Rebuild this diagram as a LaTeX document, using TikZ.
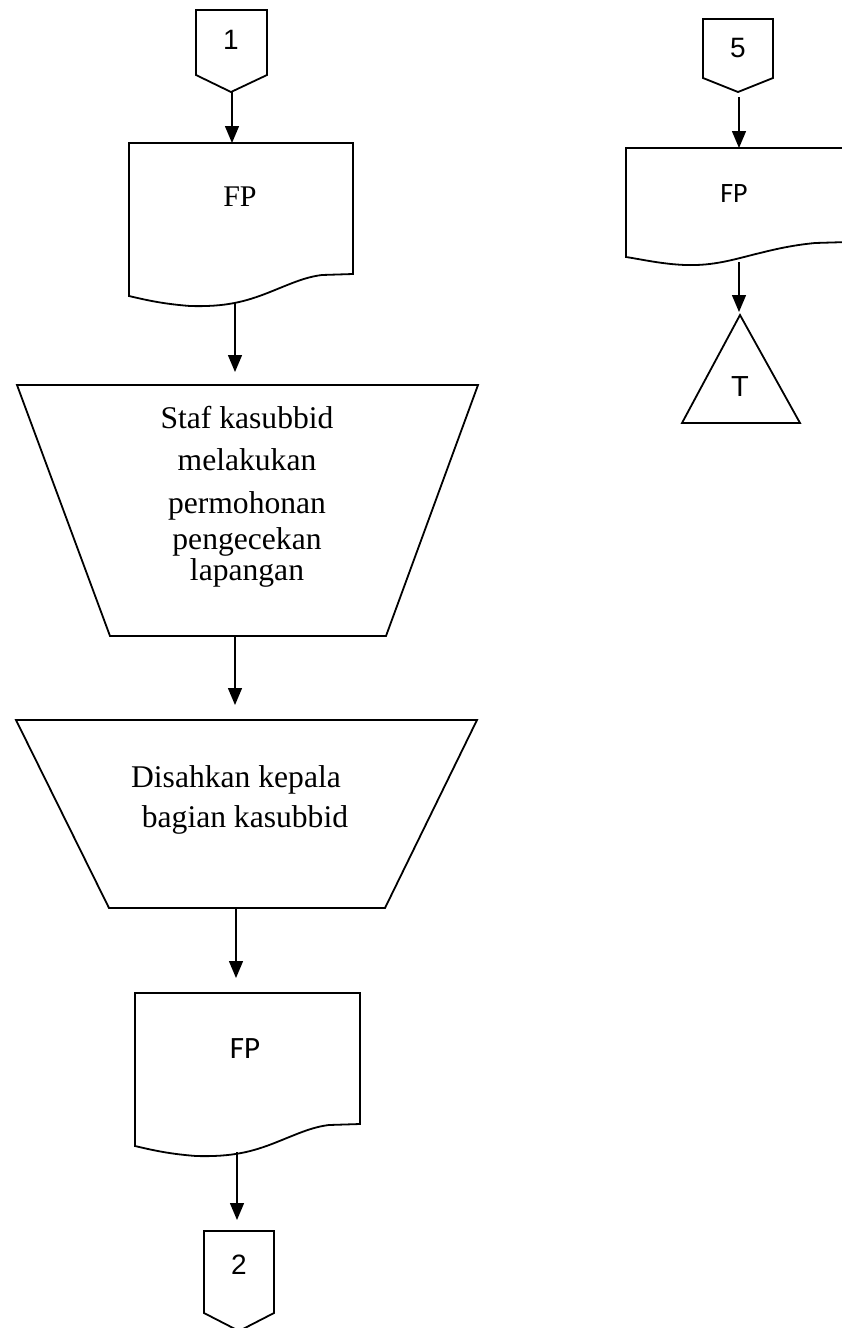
\documentclass[tikz,border=0pt]{standalone}
\usepackage{fontspec}
\setmainfont{Liberation Serif}
\newfontfamily\arialf{Liberation Sans}
\newfontfamily\calf{Carlito}
\usetikzlibrary{arrows.meta}
\begin{document}
\begin{tikzpicture}[x=1pt,y=-1pt,
  shapeline/.style={draw=black,line width=1.8pt,line join=miter},
  flow/.style={draw=black,line width=1.4pt,-{Triangle[length=17pt,width=14pt]}},
  seriftext/.style={font=\fontsize{31.6}{42.5}\selectfont,inner sep=0pt,align=center},
  numtext/.style={font=\arialf\fontsize{28}{30}\selectfont,inner sep=0pt},
  doctext/.style={font=\calf\fontsize{#1}{#1}\selectfont,inner sep=0pt}
]
\useasboundingbox (0,0) rectangle (841,1328);

% ---------- left column ----------
% off-page connector 1
\draw[shapeline] (196,10) -- (267,10) -- (267,75) -- (231,92) -- (196,75) -- cycle;
\node[numtext] (n1) at (231,40) {1};

% document FP
\draw[shapeline] (129,143) -- (353,143) -- (353,274) -- (322,275)
  .. controls (305,277) and (290,284) .. (270,292)
  .. controls (245,302) and (225,307) .. (190,306)
  .. controls (165,304) and (150,301) .. (129,296) -- cycle;
\node[seriftext,font=\fontsize{30}{32}\selectfont] (fp1) at (240,197) {FP};

% manual operation: request
\draw[shapeline] (17,385) -- (478,385) -- (386,636) -- (110,636) -- cycle;
\node[seriftext,anchor=north] (op1) at (247,406)
  {Staf kasubbid\\ melakukan\\ permohonan\\[-6pt] pengecekan\\[-12pt] lapangan};

% manual operation: approval
\draw[shapeline] (16,720) -- (477,720) -- (385,908) -- (109,908) -- cycle;
\node[seriftext,font=\fontsize{31.6}{40}\selectfont,anchor=north] (op2) at (236,765)
  {Disahkan kepala\\ \hspace*{18pt}bagian kasubbid};

% document FP
\draw[shapeline] (135,993) -- (360,993) -- (360,1124) -- (329,1125)
  .. controls (312,1127) and (297,1134) .. (277,1142)
  .. controls (252,1152) and (232,1157) .. (196,1156)
  .. controls (171,1154) and (156,1151) .. (135,1146) -- cycle;
\node[doctext=31] (fp2) at (245,1049) {FP};

% off-page connector 2
\draw[shapeline] (204,1231) -- (274,1231) -- (274,1313) -- (239,1331) -- (204,1313) -- cycle;
\node[numtext] (n2) at (239,1265) {2};

% ---------- right column ----------
% off-page connector 5
\draw[shapeline] (703,19) -- (773,19) -- (773,78) -- (738,92) -- (703,78) -- cycle;
\node[numtext] (n5) at (738,48.5) {5};

% document FP
\draw[shapeline] (626,148) -- (848,148) -- (848,242) -- (815,243)
  .. controls (795,245) and (780,248) .. (760,253)
  .. controls (735,259) and (715,266) .. (685,265)
  .. controls (662,264) and (645,260) .. (626,257) -- cycle;
\node[doctext=28] (fp5) at (734,194) {FP};

% terminator triangle
\draw[shapeline] (740,315) -- (800,423) -- (682,423) -- cycle;
\node[numtext,font=\arialf\fontsize{29}{30}\selectfont] (t) at (740,387) {T};

% ---------- connection points ----------
\coordinate (c1p) at (232,92);
\coordinate (d1t) at (232,143);
\coordinate (d1b) at (235,303);
\coordinate (o1t) at (235,385);
\coordinate (o1b) at (235,636);
\coordinate (o2t) at (235,720);
\coordinate (o2b) at (236,908);
\coordinate (d2t) at (236,993);
\coordinate (d2b) at (237,1152);
\coordinate (c2t) at (237,1231);
\coordinate (c5p) at (739,92);
\coordinate (d5t) at (739,148);
\coordinate (d5b) at (739,262);
\coordinate (tt)  at (739,315);

% ---------- flow arrows ----------
\draw[flow] (c1p) -- (d1t);
\draw[flow,shorten >=13pt] (d1b) -- (o1t);
\draw[flow,shorten >=15pt] (o1b) -- (o2t);
\draw[flow,shorten >=15pt] (o2b) -- (d2t);
\draw[flow,shorten >=11pt] (d2b) -- (c2t);
\draw[flow,shorten <=5pt] (c5p) -- (d5t);
\draw[flow,shorten >=3pt] (d5b) -- (tt);
\end{tikzpicture}
\end{document}
